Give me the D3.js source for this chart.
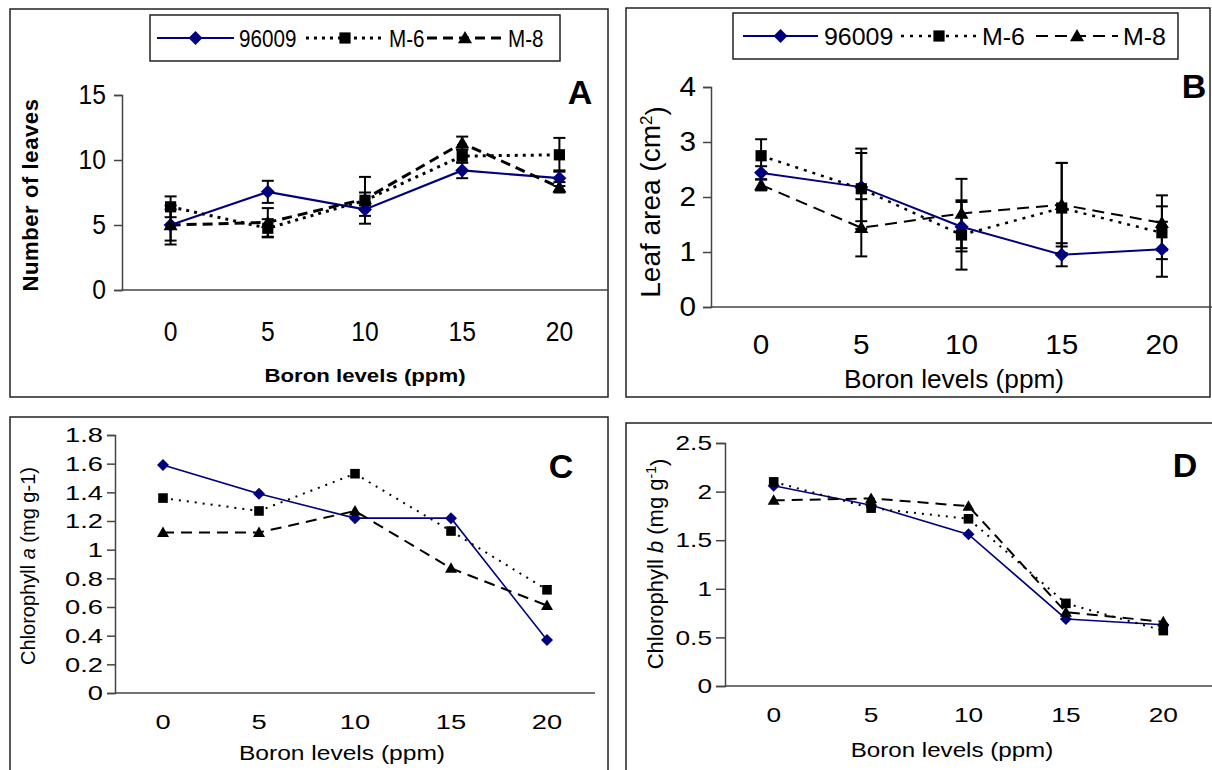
<!DOCTYPE html>
<html>
<head>
<meta charset="utf-8">
<script src="https://cdnjs.cloudflare.com/ajax/libs/d3/7.8.5/d3.min.js"></script>
<style>
  body { margin: 0; background: #fff; }
  svg { display: block; font-family: "Liberation Sans", Arial, sans-serif; }
</style>
</head>
<body>
<div id="chart"></div>
<script>
// boron levels on the x axis
const boron = ["0", "5", "10", "15", "20"];
const names = ["96009", "M-6", "M-8"];

// A: number of leaves
const leaves96009 = [5.0, 7.55, 6.2, 9.2, 8.6];
const leavesM6 = [6.4, 4.75, 6.9, 10.3, 10.4];
const leavesM8 = [5.0, 5.2, 7.0, 11.3, 7.9];
const leavesErr96009 = [1.2, 0.85, 0.5, 0.6, 0.6];
const leavesErrM6 = [0.8, 0.7, 1.8, 0.5, 1.3];
const leavesErrM8 = [1.5, 1.1, 0.5, 0.5, 0.4];

// B: leaf area
const area96009 = [2.44, 2.18, 1.46, 0.95, 1.05];
const areaM6 = [2.75, 2.15, 1.31, 1.80, 1.35];
const areaM8 = [2.22, 1.44, 1.70, 1.86, 1.53];
const areaErr96009 = [0.12, 0.62, 0.45, 0.21, 0.5];
const areaErrM6 = [0.3, 0.73, 0.63, 0.82, 0.48];
const areaErrM8 = [0.1, 0.52, 0.63, 0.76, 0.5];

// C: chlorophyll a
const chlA96009 = [1.59, 1.39, 1.22, 1.22, 0.37];
const chlAM6 = [1.36, 1.27, 1.53, 1.13, 0.72];
const chlAM8 = [1.12, 1.12, 1.27, 0.87, 0.61];

// D: chlorophyll b
const chlB96009 = [2.06, 1.86, 1.56, 0.69, 0.63];
const chlBM6 = [2.10, 1.83, 1.72, 0.85, 0.57];
const chlBM8 = [1.91, 1.93, 1.85, 0.76, 0.66];

const ticksA = [0, 5, 10, 15];
const ticksB = [0, 1, 2, 3, 4];
const ticksC = [0, 0.2, 0.4, 0.6, 0.8, 1, 1.2, 1.4, 1.6, 1.8];
const ticksD = [0, 0.5, 1, 1.5, 2, 2.5];

const svg = d3.select("#chart").append("svg")
  .attr("width", 1212).attr("height", 770);

const navy = "#00007f";

function marker(g, kind, x, y, r) {
  if (kind === "diamond") {
    g.append("path")
      .attr("d", `M${x},${y - r}L${x + r},${y}L${x},${y + r}L${x - r},${y}Z`)
      .attr("fill", navy);
  } else if (kind === "square") {
    g.append("rect")
      .attr("x", x - r * 0.8).attr("y", y - r * 0.8)
      .attr("width", r * 1.6).attr("height", r * 1.6)
      .attr("fill", "#000");
  } else {
    g.append("path")
      .attr("d", `M${x},${y - r}L${x + r},${y + r * 0.75}L${x - r},${y + r * 0.75}Z`)
      .attr("fill", "#000");
  }
}

// text placed at (x,y) and stretched sideways by sx
function wideText(g, x, y, sx, size) {
  return g.append("text")
    .attr("transform", `translate(${x},${y}) scale(${sx},1)`)
    .style("font-size", size + "px");
}

function stretchTicks(axisG, sx, size) {
  axisG.selectAll("text")
    .attr("fill", "#000")
    .style("font-size", size + "px")
    .attr("x", function () { return (+d3.select(this).attr("x") || 0) / sx; })
    .attr("transform", `scale(${sx},1)`);
}

function panel(c) {
  const g = svg.append("g");

  g.append("rect")
    .attr("x", c.frame[0]).attr("y", c.frame[1])
    .attr("width", c.frame[2]).attr("height", c.frame[3])
    .attr("fill", "none").attr("stroke", "#222").attr("stroke-width", 1.5);

  const x = d3.scaleBand().domain(boron).range([c.left, c.right]);
  const y = d3.scaleLinear().domain([0, c.max]).range([c.bottom, c.top]);
  const cx = d => x(d) + x.bandwidth() / 2;

  const yAxis = g.append("g")
    .attr("transform", `translate(${c.left},0)`)
    .call(d3.axisLeft(y).tickValues(c.ticks).tickSizeOuter(0)
      .tickSize(c.tickLen).tickPadding(c.yPad).tickFormat(d3.format("~g")));
  yAxis.select(".domain").attr("stroke", "#444").attr("stroke-width", 1.5);
  yAxis.selectAll(".tick line").attr("stroke", "#444").attr("stroke-width", 1.5);
  stretchTicks(yAxis, c.tickSx, c.tickFont);

  const xAxis = g.append("g")
    .attr("transform", `translate(0,${c.bottom})`)
    .call(d3.axisBottom(x).tickSize(0).tickPadding(c.xPad));
  xAxis.select(".domain")
    .attr("d", `M0,0H${c.xEnd - c.left}`)
    .attr("transform", `translate(${c.left},0)`)
    .attr("stroke", "#444").attr("stroke-width", 1.5);
  stretchTicks(xAxis, c.tickSx, c.tickFont);

  const line = d3.line().x((d, i) => cx(boron[i])).y(d => y(d));

  c.series.forEach(s => {
    g.append("path").datum(s.vals)
      .attr("d", line)
      .attr("fill", "none")
      .attr("stroke", s.color)
      .attr("stroke-width", s.width)
      .attr("stroke-dasharray", s.dash);
  });

  c.series.forEach(s => {
    if (!s.err) return;
    s.vals.forEach((v, i) => {
      const px = cx(boron[i]);
      const y1 = y(v + s.err[i]), y2 = y(v - s.err[i]);
      g.append("line").attr("x1", px).attr("x2", px).attr("y1", y1).attr("y2", y2)
        .attr("stroke", "#000").attr("stroke-width", 2);
      [y1, y2].forEach(yy => g.append("line")
        .attr("x1", px - 6).attr("x2", px + 6).attr("y1", yy).attr("y2", yy)
        .attr("stroke", "#000").attr("stroke-width", 2));
    });
  });

  c.series.forEach(s => {
    s.vals.forEach((v, i) => marker(g, s.marker, cx(boron[i]), y(v), c.mr));
  });

  // axis titles
  wideText(g, c.xLabel[0], c.xLabel[1], c.xLabelSx, c.labelFont)
    .attr("text-anchor", "middle")
    .style("font-weight", c.labelWeight)
    .text("Boron levels (ppm)");

  const yl = g.append("text")
    .attr("transform", `translate(${c.yLabel[0]},${c.yLabel[1]}) rotate(-90)`)
    .attr("text-anchor", "middle").attr("dy", "0.35em")
    .style("font-size", c.yLabelFont + "px").style("font-weight", c.labelWeight)
    .style("letter-spacing", c.labelSpacing || 0);
  c.yText(yl);

  // panel letter
  g.append("text")
    .attr("x", c.letterPos[0]).attr("y", c.letterPos[1])
    .attr("text-anchor", "middle")
    .style("font-size", "34px").style("font-weight", "bold")
    .text(c.letter);

  // legend
  if (c.legend) {
    const L = c.legend;
    g.append("rect")
      .attr("x", L.box[0]).attr("y", L.box[1]).attr("width", L.box[2]).attr("height", L.box[3])
      .attr("fill", "#fff").attr("stroke", "#222").attr("stroke-width", 1.5);
    const ly = L.box[1] + L.box[3] / 2;
    c.series.forEach((s, i) => {
      const it = L.items[i];
      g.append("line").attr("x1", it[0]).attr("x2", it[1]).attr("y1", ly).attr("y2", ly)
        .attr("stroke", s.color).attr("stroke-width", s.width).attr("stroke-dasharray", s.dash);
      marker(g, s.marker, (it[0] + it[1]) / 2, ly, c.mr);
      wideText(g, it[2], ly, L.sx, L.font).attr("dy", "0.36em").text(names[i]);
    });
  }
}

panel({
  frame: [10, 9, 598, 388],
  left: 122, right: 608, xEnd: 608, bottom: 290, top: 95, max: 15, ticks: ticksA,
  tickLen: 8, yPad: 8, xPad: 31, tickFont: 28, tickSx: 0.88,
  labelFont: 19, xLabelSx: 1.17, yLabelFont: 22, labelWeight: "bold", labelSpacing: "0.6px",
  xLabel: [365, 382], yLabel: [30, 195], mr: 7,
  yText: t => t.text("Number of leaves"),
  letter: "A", letterPos: [580, 104],
  series: [
    { vals: leaves96009, err: leavesErr96009, color: navy, width: 2.2, dash: null, marker: "diamond" },
    { vals: leavesM6, err: leavesErrM6, color: "#000", width: 3, dash: "3,5", marker: "square" },
    { vals: leavesM8, err: leavesErrM8, color: "#000", width: 3, dash: "10,6", marker: "triangle" }
  ],
  legend: { box: [150, 15, 410, 46], font: 24, sx: 0.86,
    items: [[157, 234, 239], [306, 384, 389], [427, 503, 508]] }
});

panel({
  frame: [626, 8, 584, 389],
  left: 711, right: 1212, xEnd: 1212, bottom: 307, top: 87, max: 4, ticks: ticksB,
  tickLen: 8, yPad: 7, xPad: 28, tickFont: 27, tickSx: 1.1,
  labelFont: 25, xLabelSx: 1.05, yLabelFont: 28, labelWeight: "normal",
  xLabel: [954, 388], yLabel: [650, 202], mr: 7,
  yText: t => {
    t.append("tspan").text("Leaf area (cm");
    t.append("tspan").attr("dy", "-0.45em").style("font-size", "17px").text("2");
    t.append("tspan").attr("dy", "0.45em").text(")");
  },
  letter: "B", letterPos: [1194, 98],
  series: [
    { vals: area96009, err: areaErr96009, color: navy, width: 2, dash: null, marker: "diamond" },
    { vals: areaM6, err: areaErrM6, color: "#000", width: 2.5, dash: "3,6", marker: "square" },
    { vals: areaM8, err: areaErrM8, color: "#000", width: 2, dash: "12,7", marker: "triangle" }
  ],
  legend: { box: [733, 13, 445, 46], font: 24, sx: 1.04,
    items: [[743, 818, 824], [901, 977, 982], [1036, 1118, 1123]] }
});

panel({
  frame: [10, 417, 598, 370],
  left: 115, right: 595, xEnd: 595, bottom: 693, top: 435, max: 1.8, ticks: ticksC,
  tickLen: 8, yPad: 4, xPad: 21, tickFont: 21, tickSx: 1.3,
  labelFont: 21, xLabelSx: 1.17, yLabelFont: 20, labelWeight: "normal",
  xLabel: [342, 760], yLabel: [28, 566], mr: 6,
  yText: t => {
    t.append("tspan").text("Chlorophyll ");
    t.append("tspan").style("font-style", "italic").text("a");
    t.append("tspan").text(" (mg g-1)");
  },
  letter: "C", letterPos: [561, 478],
  series: [
    { vals: chlA96009, color: navy, width: 1.6, dash: null, marker: "diamond" },
    { vals: chlAM6, color: "#000", width: 2, dash: "2,6", marker: "square" },
    { vals: chlAM8, color: "#000", width: 2, dash: "11,7", marker: "triangle" }
  ]
});

panel({
  frame: [626, 423, 600, 370],
  left: 725, right: 1212, xEnd: 1212, bottom: 686, top: 443, max: 2.5, ticks: ticksD,
  tickLen: 9, yPad: 4, xPad: 21, tickFont: 21, tickSx: 1.25,
  labelFont: 21, xLabelSx: 1.15, yLabelFont: 22, labelWeight: "normal",
  xLabel: [952, 757], yLabel: [655, 564], mr: 6,
  yText: t => {
    t.append("tspan").text("Chlorophyll ");
    t.append("tspan").style("font-style", "italic").text("b");
    t.append("tspan").text("  (mg g");
    t.append("tspan").attr("dy", "-0.45em").style("font-size", "14px").text("-1");
    t.append("tspan").attr("dy", "0.45em").text(")");
  },
  letter: "D", letterPos: [1185, 477],
  series: [
    { vals: chlB96009, color: navy, width: 1.6, dash: null, marker: "diamond" },
    { vals: chlBM6, color: "#000", width: 2, dash: "2,6", marker: "square" },
    { vals: chlBM8, color: "#000", width: 2, dash: "11,7", marker: "triangle" }
  ]
});
</script>
</body>
</html>
